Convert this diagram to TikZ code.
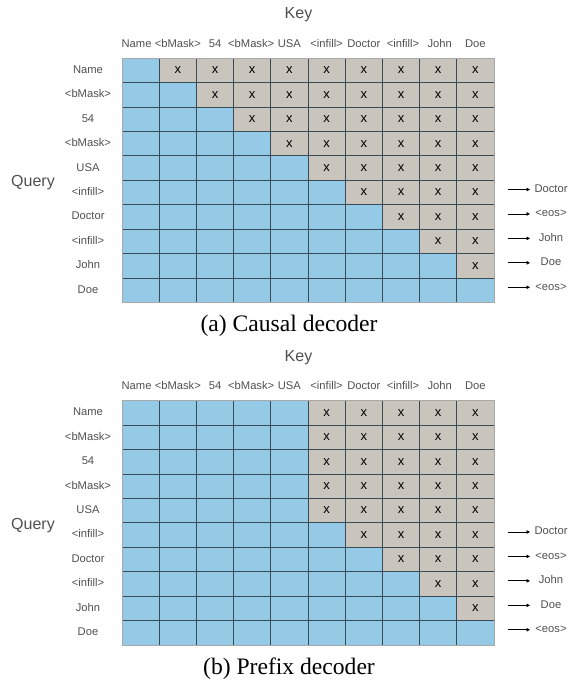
\documentclass[tikz,border=0pt]{standalone}
\usepackage{fontspec}
\setmainfont{Liberation Serif}
\setsansfont{Liberation Sans}
\usetikzlibrary{arrows.meta}
\definecolor{cellblue}{HTML}{95CAE7}
\definecolor{cellgray}{HTML}{C9C5BD}
\definecolor{gridline}{HTML}{3A4B58}
\definecolor{bordergray}{HTML}{A8A8A8}
\definecolor{labelgray}{HTML}{505050}
\tikzset{
  tok/.style = {font = \sffamily\fontsize{11.2}{13}\selectfont, text = labelgray, inner sep = 0pt, text height = 8pt, text depth = 2pt},
  axislabel/.style = {font = \sffamily\fontsize{16}{19}\selectfont, text = labelgray, inner sep = 0pt},
  maskx/.style = {font = \sffamily\fontsize{13}{15}\selectfont, inner sep = 0pt},
  capt/.style = {font = \fontsize{23.6}{28}\selectfont, inner sep = 0pt},
  predarrow/.style = {-{Triangle[length = 3.5pt, width = 3.5pt]}, line width = 0.8pt}
}
\begin{document}
\begin{tikzpicture}[x = 1pt, y = -1pt]
\useasboundingbox (0,0) rectangle (575,686);
\foreach \ytop/\pre/\pan/\panelname in {58/0/a/{(a) Causal decoder}, 400.5/5/b/{(b) Prefix decoder}} {
  \foreach \row in {1,...,10}
    \foreach \col in {1,...,10} {
      \pgfmathtruncatemacro\lastvis{max(\row,\pre)}
      \ifnum\col>\lastvis
        \fill[cellgray] ({122+37.2*(\col-1)},{\ytop+24.45*(\row-1)}) rectangle ++(37.2,24.45);
        \node[maskx] (\pan-x\row-\col) at ({122+37.2*(\col-0.5)},{\ytop+24.45*(\row-0.5)}) {x};
      \else
        \fill[cellblue] ({122+37.2*(\col-1)},{\ytop+24.45*(\row-1)}) rectangle ++(37.2,24.45);
      \fi
    }
  \foreach \i in {1,...,9} {
    \draw[gridline, line width = 0.7pt] ({122+37.2*\i},\ytop) -- ++(0,244.5);
    \draw[gridline, line width = 0.7pt] (122,{\ytop+24.45*\i}) -- ++(372,0);
  }
  \draw[bordergray, line width = 0.7pt] (122,\ytop) rectangle ++(372,244.5);
  \foreach \i/\t/\dx in {1/Name/-4, 2/{<bMask>}/0, 3/54/0, 4/{<bMask>}/-1, 5/USA/0, 6/{<infill>}/0, 7/Doctor/0, 8/{<infill>}/2, 9/John/1.5, 10/Doe/0} {
    \node[tok] (\pan-k\i) at ({122+37.2*(\i-0.5)+\dx},\ytop-14) {\t};
    \node[tok] (\pan-q\i) at (88,{\ytop+24.45*(\i-0.5)}) {\t};
  }
  \node[axislabel] (\pan-key) at (298.5,\ytop-43) {Key};
  \node[axislabel] (\pan-query) at (33,\ytop+125) {Query};
  \foreach \i/\t in {6/Doctor, 7/{<eos>}, 8/John, 9/Doe, 10/{<eos>}} {
    \coordinate (\pan-s\i) at (508,{\ytop+24.45*(\i-0.5)-3});
    \coordinate (\pan-e\i) at (530,{\ytop+24.45*(\i-0.5)-3});
    \node[tok] (\pan-o\i) at (551,{\ytop+24.45*(\i-0.5)-3}) {\t};
    \draw[predarrow] (\pan-s\i) -- (\pan-e\i);
  }
  \node[capt] (\pan-cap) at (289,\ytop+268) {\panelname};
}
\end{tikzpicture}
\end{document}
